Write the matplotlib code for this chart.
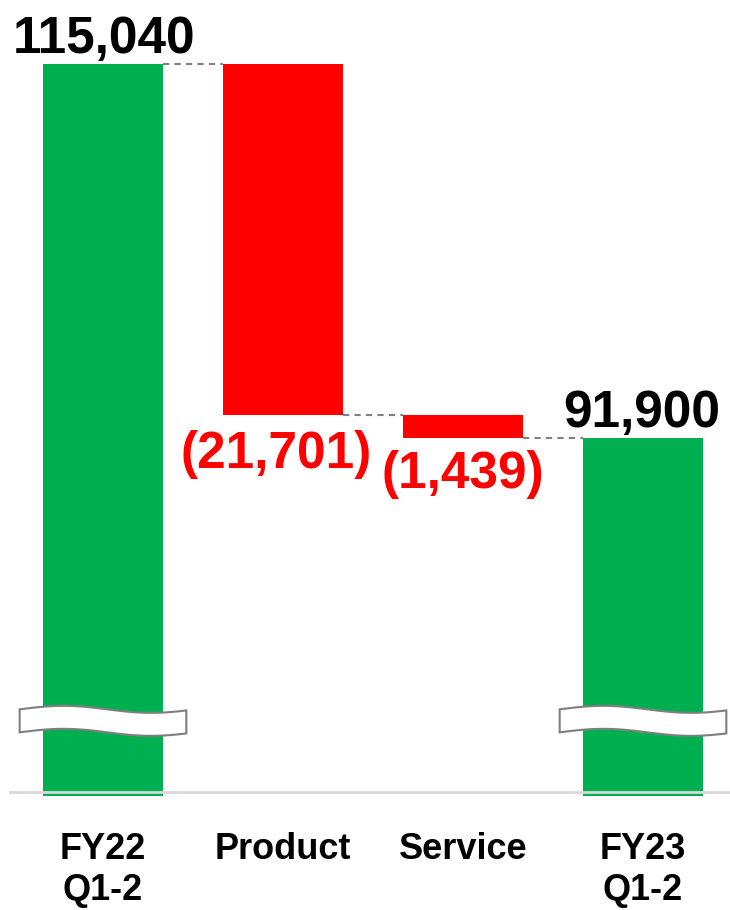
import numpy as np
import matplotlib
matplotlib.use('Agg')
import matplotlib.pyplot as plt
from matplotlib.patches import Polygon

# data
categories = ['FY22\nQ1-2', 'Product', 'Service', 'FY23\nQ1-2']
start_total = 115040
changes = [-21701, -1439]
end_total = 91900
value_labels = ['115,040', '(21,701)', '(1,439)', '91,900']

GREEN = '#00B050'
RED = '#FF0000'
Y_LOW = 69750      # bottom of the plotting area (axis is broken)
AXIS_LINE = 70000
BREAK_AT = 74400

plt.rcParams['font.family'] = ['Liberation Sans', 'DejaVu Sans']

fig = plt.figure(figsize=(7.3, 9.1), dpi=100)
ax = fig.add_axes([9 / 730, 114 / 910, 721 / 730, 796 / 910])

# running totals for the waterfall
bottoms, heights, colors = [], [], []
bottoms.append(Y_LOW)
heights.append(start_total - Y_LOW)
colors.append(GREEN)
level = start_total
for c in changes:
    new_level = level + c
    bottoms.append(min(level, new_level))
    heights.append(abs(c))
    colors.append(RED if c < 0 else GREEN)
    level = new_level
bottoms.append(Y_LOW)
heights.append(end_total - Y_LOW)
colors.append(GREEN)

x = np.arange(len(categories))
width = 0.667
ax.bar(x, heights, bottom=bottoms, width=width, color=colors, zorder=2)

# dashed connectors
levels = [start_total]
for c in changes:
    levels.append(levels[-1] + c)
for i, lv in enumerate(levels):
    ax.plot([x[i] + width / 2, x[i + 1] - width / 2], [lv, lv],
            color='#808080', lw=1.5, ls=(0, (3, 2.5)), zorder=1)

# baseline
ax.axhline(AXIS_LINE, color='#D9D9D9', lw=2, zorder=3)

# break marks on the totals bars
px = (119000 - Y_LOW) / 796.0  # data units per pixel
half_w = 0.463
band_h = 23 * px
amp = 3.5 * px
for i in [0, len(x) - 1]:
    t = np.linspace(0, 1, 60)
    xs = x[i] - half_w + 2 * half_w * t
    wave = amp * np.sin(2 * np.pi * 0.95 * t)
    top = BREAK_AT + band_h / 2 + wave
    bot = BREAK_AT - band_h / 2 + wave
    pts = np.concatenate([np.column_stack([xs, top]),
                          np.column_stack([xs[::-1], bot[::-1]])])
    ax.add_patch(Polygon(pts, closed=True, facecolor='white',
                         edgecolor='#7F7F7F', lw=1.5, zorder=4))

# value labels
ax.annotate(value_labels[0], (x[0], start_total), xytext=(1, 8),
            textcoords='offset points', ha='center', va='baseline',
            fontsize=37, fontweight='bold', color='black')
ax.annotate(value_labels[3], (x[3], end_total), xytext=(-1, 8),
            textcoords='offset points', ha='center', va='baseline',
            fontsize=37, fontweight='bold', color='black')
ax.annotate(value_labels[1], (x[1], levels[1]), xytext=(-5, -38),
            textcoords='offset points', ha='center', va='baseline',
            fontsize=37, fontweight='bold', color=RED)
ax.annotate(value_labels[2], (x[2], levels[2]), xytext=(0, -36),
            textcoords='offset points', ha='center', va='baseline',
            fontsize=37, fontweight='bold', color=RED)

ax.set_xlim(-94 / 180, 627 / 180)
ax.set_ylim(Y_LOW, 119000)
ax.set_xticks(x)
ax.set_xticklabels(categories, fontsize=26, fontweight='bold', linespacing=1.2)
ax.tick_params(axis='x', length=0, pad=26)
ax.set_yticks([])
for s in ax.spines.values():
    s.set_visible(False)

fig.savefig('out.png', dpi=100)
